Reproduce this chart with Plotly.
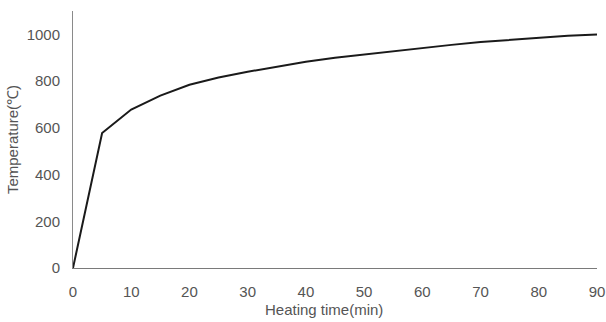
import plotly.graph_objects as go

# Heating time (min) and furnace temperature (°C)
time_min = [0, 5, 10, 15, 20, 25, 30, 35, 40, 45, 50, 55, 60, 65, 70, 75, 80, 85, 90]
temperature = [0, 578, 678, 738, 784, 815, 840, 863, 883, 900, 914, 930, 943, 955, 967, 977, 986, 994, 999]

x_ticks = [0, 10, 20, 30, 40, 50, 60, 70, 80, 90]
y_ticks = [0, 200, 400, 600, 800, 1000]

fig = go.Figure(
    go.Scatter(
        x=time_min,
        y=temperature,
        mode="lines",
        line=dict(color="#1a1a1a", width=2),
        showlegend=False,
    )
)

axis_font = dict(family="Liberation Sans, Arial, sans-serif", size=15, color="#555555")

fig.update_layout(
    width=606,
    height=322,
    margin=dict(l=73, r=9, t=11, b=54, autoexpand=False),
    paper_bgcolor="white",
    plot_bgcolor="white",
    font=axis_font,
    xaxis=dict(
        range=[0, 90],
        tickvals=x_ticks,
        showgrid=False,
        zeroline=False,
        showline=True,
        linecolor="#7a7a7a",
        linewidth=1,
        ticks="outside",
        ticklen=10,
        tickcolor="rgba(0,0,0,0)",
        automargin=False,
        tickfont=axis_font,
    ),
    yaxis=dict(
        range=[0, 1100],
        tickvals=y_ticks,
        showgrid=False,
        zeroline=False,
        showline=True,
        linecolor="#8a8a8a",
        linewidth=1,
        ticks="outside",
        ticklen=9,
        tickcolor="rgba(0,0,0,0)",
        automargin=False,
        title=dict(text="Temperature(℃)", font=axis_font, standoff=4),
        tickfont=axis_font,
    ),
    annotations=[
        dict(
            text="Heating time(min)",
            xref="paper",
            yref="paper",
            x=0.479,
            y=-0.163,
            xanchor="center",
            yanchor="middle",
            showarrow=False,
            font=axis_font,
        )
    ],
)

fig.write_html("out.html")
